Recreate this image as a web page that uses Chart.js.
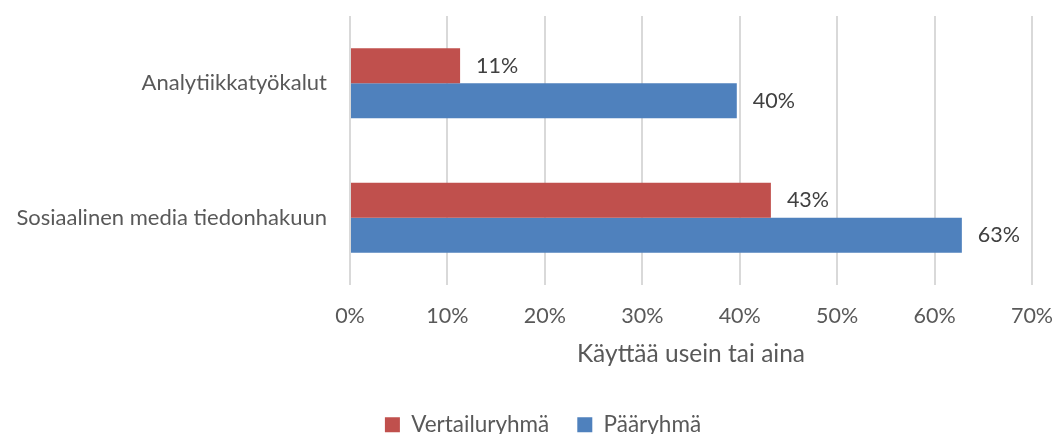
<!DOCTYPE html>
<html lang="fi">
<head>
<meta charset="utf-8">
<title>Käyttää usein tai aina</title>
<script src="https://cdn.jsdelivr.net/npm/chart.js@4"></script>
<style>
  html, body { margin: 0; padding: 0; background: #fff; overflow: hidden; }
  #wrap { width: 1054px; height: 446px; }
</style>
</head>
<body>
<div id="wrap"><canvas id="chart" width="1054" height="446"></canvas></div>
<script>
// values (bar lengths; labels show them rounded)
const categories = ["Analytiikkatyökalut", "Sosiaalinen media tiedonhakuun"];
const seriesNames = ["Vertailuryhmä", "Pääryhmä"];
const vertailuryhma = [11.3, 43.2];
const paaryhma = [39.7, 62.8];
const xTickValues = [0, 10, 20, 30, 40, 50, 60, 70];
const axisTitle = "Käyttää usein tai aina";

const FONT = "Lato";
const TEXT = "#595959";

// writes "11%" etc. just right of each bar end
const barValueLabels = {
  id: "barValueLabels",
  afterDatasetsDraw(chart) {
    const ctx = chart.ctx;
    ctx.save();
    ctx.font = `21.5px ${FONT}`;
    ctx.fillStyle = "#404040";
    ctx.textAlign = "left";
    ctx.textBaseline = "middle";
    chart.data.datasets.forEach((ds, i) => {
      chart.getDatasetMeta(i).data.forEach((bar, j) => {
        ctx.fillText(`${Math.round(ds.data[j])}%`, bar.x + 16, bar.y);
      });
    });
    ctx.restore();
  }
};

// legend in the original sits a bit right of the canvas centre
const legendShift = {
  id: "legendShift",
  afterLayout(chart) {
    if (chart.legend) chart.legend.left = 54;
  }
};

new Chart(document.getElementById("chart"), {
  type: "bar",
  data: {
    labels: categories,
    datasets: [
      { label: seriesNames[0], data: vertailuryhma, backgroundColor: "#C0504D" },
      { label: seriesNames[1], data: paaryhma, backgroundColor: "#4F81BD" }
    ]
  },
  options: {
    indexAxis: "y",
    responsive: false,
    animation: false,
    devicePixelRatio: 1,
    categoryPercentage: 0.52,
    barPercentage: 1.0,
    layout: { padding: { top: 16, left: 0, right: 22, bottom: 0 } },
    plugins: {
      tooltip: { enabled: false },
      legend: {
        position: "bottom",
        labels: {
          boxWidth: 15,
          boxHeight: 15,
          padding: 28,
          color: TEXT,
          font: { family: FONT, size: 22.5 }
        }
      }
    },
    scales: {
      x: {
        min: 0,
        max: 70,
        afterBuildTicks: (axis) => { axis.ticks = xTickValues.map((v) => ({ value: v })); },
        grid: { color: "#D9D9D9", lineWidth: 2, drawTicks: false },
        border: { display: false },
        ticks: {
          padding: 18.4,
          color: TEXT,
          font: { family: FONT, size: 21.5 },
          callback: (v) => `${v}%`
        },
        title: {
          display: true,
          text: axisTitle,
          color: TEXT,
          font: { family: FONT, size: 24.5 },
          padding: { top: 0, bottom: 16.3 }
        },
        afterFit: (axis) => {
          axis.height = 100.5;
          axis.paddingLeft = 0;
          axis.paddingRight = 0;
        }
      },
      y: {
        grid: { display: false, drawTicks: false },
        border: { display: false },
        ticks: {
          padding: 23,
          color: TEXT,
          font: { family: FONT, size: 22 }
        },
        afterFit: (axis) => {
          axis.width = 350;
          axis.paddingTop = 0;
          axis.paddingBottom = 0;
        }
      }
    }
  },
  plugins: [barValueLabels, legendShift]
});
</script>
</body>
</html>
